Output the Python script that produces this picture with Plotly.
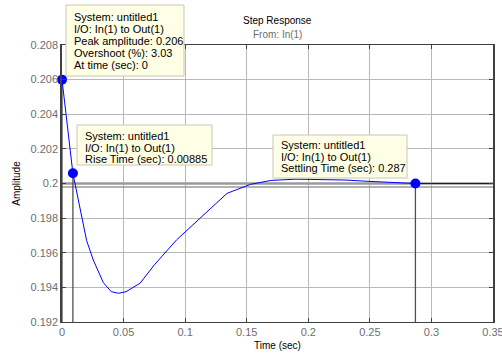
import plotly.graph_objects as go

# ---- data ----
time_s = [0, 0.00885, 0.02, 0.0254, 0.0336, 0.04, 0.046, 0.052, 0.0634, 0.075,
          0.093, 0.112, 0.134, 0.153, 0.17, 0.19, 0.21, 0.23, 0.25, 0.27, 0.287, 0.3, 0.35]
amplitude = [0.206, 0.20059, 0.1967, 0.19558, 0.19427, 0.19375, 0.19366, 0.19375, 0.19424, 0.1953,
             0.19674, 0.19799, 0.19943, 0.19995, 0.20018, 0.20025, 0.20024, 0.2002, 0.20012, 0.20005,
             0.2, 0.2, 0.2]

marker_t = [0, 0.00885, 0.287]          # peak, rise time, settling time
marker_y = [0.206, 0.20059, 0.2]
steady_levels = [0.2, 0.1998]

x_ticks = [0, 0.05, 0.1, 0.15, 0.2, 0.25, 0.3, 0.35]
x_ticklabels = ["0", "0.05", "0.1", "0.15", "0.2", "0.25", "0.3", "0.35"]
y_ticks = [0.192, 0.194, 0.196, 0.198, 0.2, 0.202, 0.204, 0.206, 0.208]
y_ticklabels = ["0.192", "0.194", "0.196", "0.198", "0.2", "0.202", "0.204", "0.206", "0.208"]

box_lines = [
    ["System: untitled1", "I/O: In(1) to Out(1)", "Peak amplitude: 0.206",
     "Overshoot (%): 3.03", "At time (sec): 0"],
    ["System: untitled1", "I/O: In(1) to Out(1)", "Rise Time (sec): 0.00885"],
    ["System: untitled1", "I/O: In(1) to Out(1)", "Settling Time (sec): 0.287"],
]

FONT = "Liberation Sans, Arial, sans-serif"
x_min, x_max = x_ticks[0], x_ticks[-1]
y_min, y_max = y_ticks[0], y_ticks[-1]

W, H = 502, 353
ML, MR, MT, MB = 62, 9, 45, 31
PW, PH = W - ML - MR, H - MT - MB


def px_to_paper(px, py):
    return (px - ML) / PW, (H - MB - py) / PH


fig = go.Figure()

# steady-state band
fig.add_trace(go.Scatter(x=[x_min, x_max], y=[steady_levels[0]] * 2, mode="lines",
                         line=dict(color="#9a9a9a", width=2.5), hoverinfo="skip", showlegend=False))
fig.add_trace(go.Scatter(x=[x_min, x_max], y=[steady_levels[1]] * 2, mode="lines",
                         line=dict(color="#9a9a9a", width=1.5), hoverinfo="skip", showlegend=False))

# vertical characteristic lines
for t, yv in zip(marker_t, marker_y):
    fig.add_trace(go.Scatter(x=[t, t], y=[yv, y_min], mode="lines",
                             line=dict(color="#505050", width=1.3), hoverinfo="skip", showlegend=False))

# response curve
fig.add_trace(go.Scatter(x=time_s, y=amplitude, mode="lines",
                         line=dict(color="#0000ff", width=1), showlegend=False))

# markers
fig.add_trace(go.Scatter(x=marker_t, y=marker_y, mode="markers",
                         marker=dict(color="#0000ff", size=10), cliponaxis=False, showlegend=False))

# data-tip boxes: (left, top, right, bottom) in pixels, first text line centre, line step
box_geom = [
    ((66, 5, 184, 76), 72, 16.5, 12.0),
    ((77, 125, 212, 165), 83, 136.0, 11.7),
    ((273, 135, 407, 178), 279, 145.0, 11.7),
]

shapes = []
annotations = []
for (rect, tx, ty0, step), lines in zip(box_geom, box_lines):
    x0, y1 = px_to_paper(rect[0], rect[1])
    x1, y0 = px_to_paper(rect[2], rect[3])
    shapes.append(dict(type="rect", xref="paper", yref="paper", x0=x0, x1=x1, y0=y0, y1=y1,
                       fillcolor="#ffffe6", line=dict(color="#c8c8b4", width=1), layer="above"))
    for i, ln in enumerate(lines):
        ax, ay = px_to_paper(tx, ty0 + i * step)
        annotations.append(dict(xref="paper", yref="paper", x=ax, y=ay, xanchor="left",
                                yanchor="middle", text=ln, showarrow=False,
                                font=dict(family=FONT, size=11, color="#000000")))

annotations += [
    dict(xref="paper", yref="paper", x=0.5, y=1.0 + 25 / PH, text="Step Response", showarrow=False,
         font=dict(family=FONT, size=10, color="#000000"), xanchor="center", yanchor="middle"),
    dict(xref="paper", yref="paper", x=0.5, y=1.0 + 11 / PH, text="From: In(1)", showarrow=False,
         font=dict(family=FONT, size=10, color="#6e6e6e"), xanchor="center", yanchor="middle"),
]

fig.update_layout(
    width=W, height=H,
    margin=dict(l=ML, r=MR, t=MT, b=MB, autoexpand=False),
    paper_bgcolor="white", plot_bgcolor="white",
    annotations=annotations, shapes=shapes,
    font=dict(family=FONT, size=10, color="#000000"),
    xaxis=dict(range=[x_min, x_max], tickvals=x_ticks, ticktext=x_ticklabels, automargin=False,
               ticklabeloverflow="allow",
               showgrid=True, gridcolor="#b8b8b8", gridwidth=1,
               showline=True, linecolor="#404040", linewidth=1, mirror="ticks",
               ticks="inside", ticklen=4, tickcolor="#404040",
               tickfont=dict(family=FONT, size=11, color="#6e6e6e"),
               title=dict(text="Time (sec)", font=dict(family=FONT, size=10, color="#000000"), standoff=4),
               zeroline=False),
    yaxis=dict(range=[y_min, y_max], tickvals=y_ticks, ticktext=y_ticklabels, automargin=False,
               ticklabeloverflow="allow",
               showgrid=True, gridcolor="#b8b8b8", gridwidth=1,
               showline=True, linecolor="#404040", linewidth=1.5, mirror="ticks",
               ticks="inside", ticklen=4, tickcolor="#404040",
               tickfont=dict(family=FONT, size=11, color="#6e6e6e"),
               title=dict(text="Amplitude", font=dict(family=FONT, size=10, color="#000000"), standoff=8),
               zeroline=False),
)

fig.write_html("out.html", config={"displayModeBar": False},
               post_script="document.body.style.margin='0';")
